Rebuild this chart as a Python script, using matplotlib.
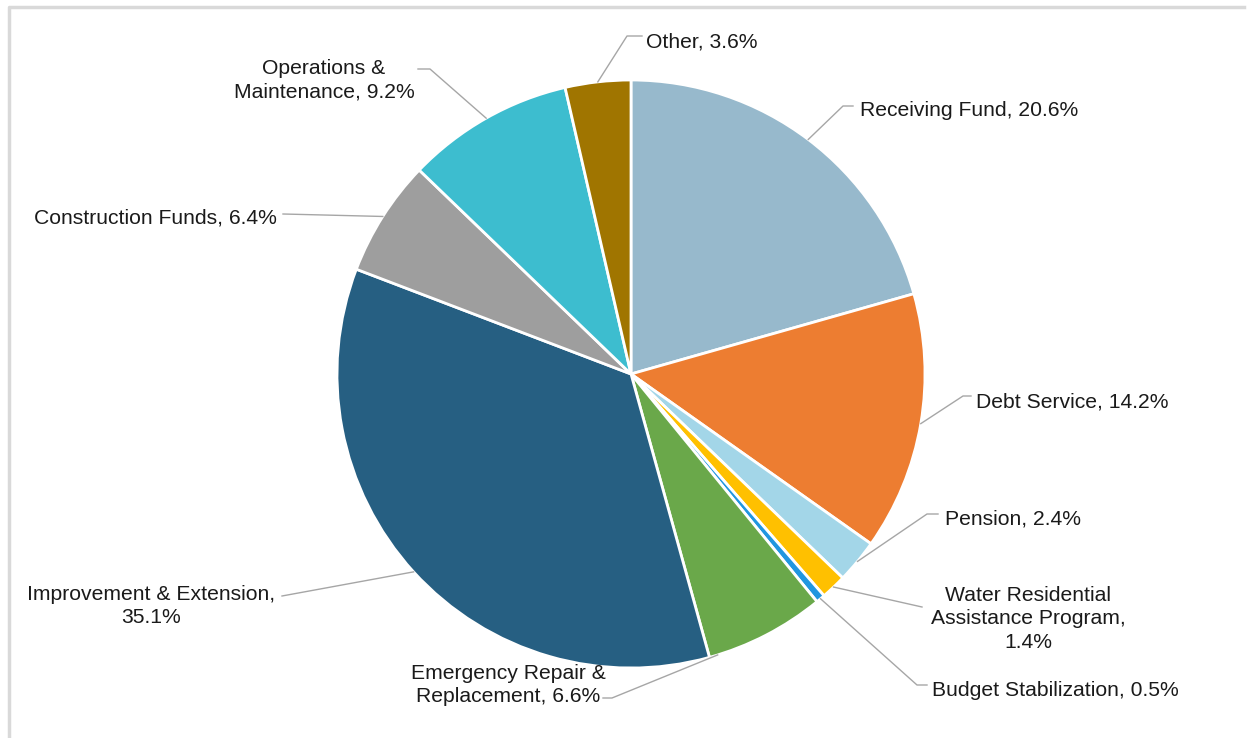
import matplotlib.pyplot as plt
import numpy as np

W, H = 1254, 738

names = ['Receiving Fund', 'Debt Service', 'Pension',
         'Water Residential Assistance Program', 'Budget Stabilization',
         'Emergency Repair & Replacement', 'Improvement & Extension',
         'Construction Funds', 'Operations & Maintenance', 'Other']
shares = [20.6, 14.2, 2.4, 1.4, 0.5, 6.6, 35.1, 6.4, 9.2, 3.6]
colors = ['#97b9cc', '#ed7d31', '#a3d6e8', '#ffc000', '#2196e0',
          '#6aa84a', '#265f82', '#9e9e9e', '#3dbdcf', '#a07500']

# label text, text anchor (px from top-left), alignment, elbow + line end,
# and where along the wedge arc the leader starts (0.5 = middle)
labels = [
    ('Receiving Fund, 20.6%', (860, 111), 'left', [(843, 106), (853, 106)], 0.5),
    ('Debt Service, 14.2%', (976, 402), 'left', [(963, 396), (971, 396)], 0.5),
    ('Pension, 2.4%', (945, 519), 'left', [(927, 514), (938, 514)], 0.5),
    ('Water Residential\nAssistance Program,\n1.4%', (1028, 619), 'center',
     [(922, 607)], 0.5),
    ('Budget Stabilization, 0.5%', (932, 690), 'left', [(917, 685), (927, 685)], 0.5),
    ('Emergency Repair &\nReplacement, 6.6%', (508, 685), 'center',
     [(612, 698), (603, 698)], 0.93),
    ('Improvement & Extension,\n35.1%', (151, 606), 'center', [(282, 596)], 0.5),
    ('Construction Funds, 6.4%', (277, 218), 'right', [(283, 214)], 0.5),
    ('Operations &\nMaintenance, 9.2%', (324, 80), 'center',
     [(430, 69), (418, 69)], 0.5),
    ('Other, 3.6%', (646, 42), 'left', [(627, 36), (642, 36)], 0.5),
]

cx, cy, r = 631, 374, 294

fig = plt.figure(figsize=(W / 100, H / 100), dpi=100)
ax = fig.add_axes([0, 0, 1, 1])

ax.pie(shares, colors=colors, center=(cx, H - cy), radius=r, startangle=90,
       counterclock=False,
       wedgeprops=dict(edgecolor='white', linewidth=2))
ax.set_xlim(0, W)
ax.set_ylim(0, H)
ax.set_aspect('equal')
ax.axis('off')

starts = np.cumsum(shares) - np.array(shares)
for s, v, (txt, (tx, ty), ha, pts, frac) in zip(starts, shares, labels):
    t = np.radians((s + v * frac) / 100 * 360)
    x0 = cx + r * np.sin(t)
    y0 = cy - r * np.cos(t)
    xs = [x0] + [p[0] for p in pts]
    ys = [H - y0] + [H - p[1] for p in pts]
    ax.plot(xs, ys, color='#a6a6a6', lw=1)
    ax.text(tx, H - ty, txt, ha=ha, va='center', fontsize=15.2,
            family='Liberation Sans', color='#1a1a1a', linespacing=1.32,
            multialignment='center')

# light frame around the chart area
ax.plot([9, 9, 1244], [0, H - 7, H - 7], color='#d9d9d9', lw=2.5)

fig.savefig('out.png', dpi=100)
